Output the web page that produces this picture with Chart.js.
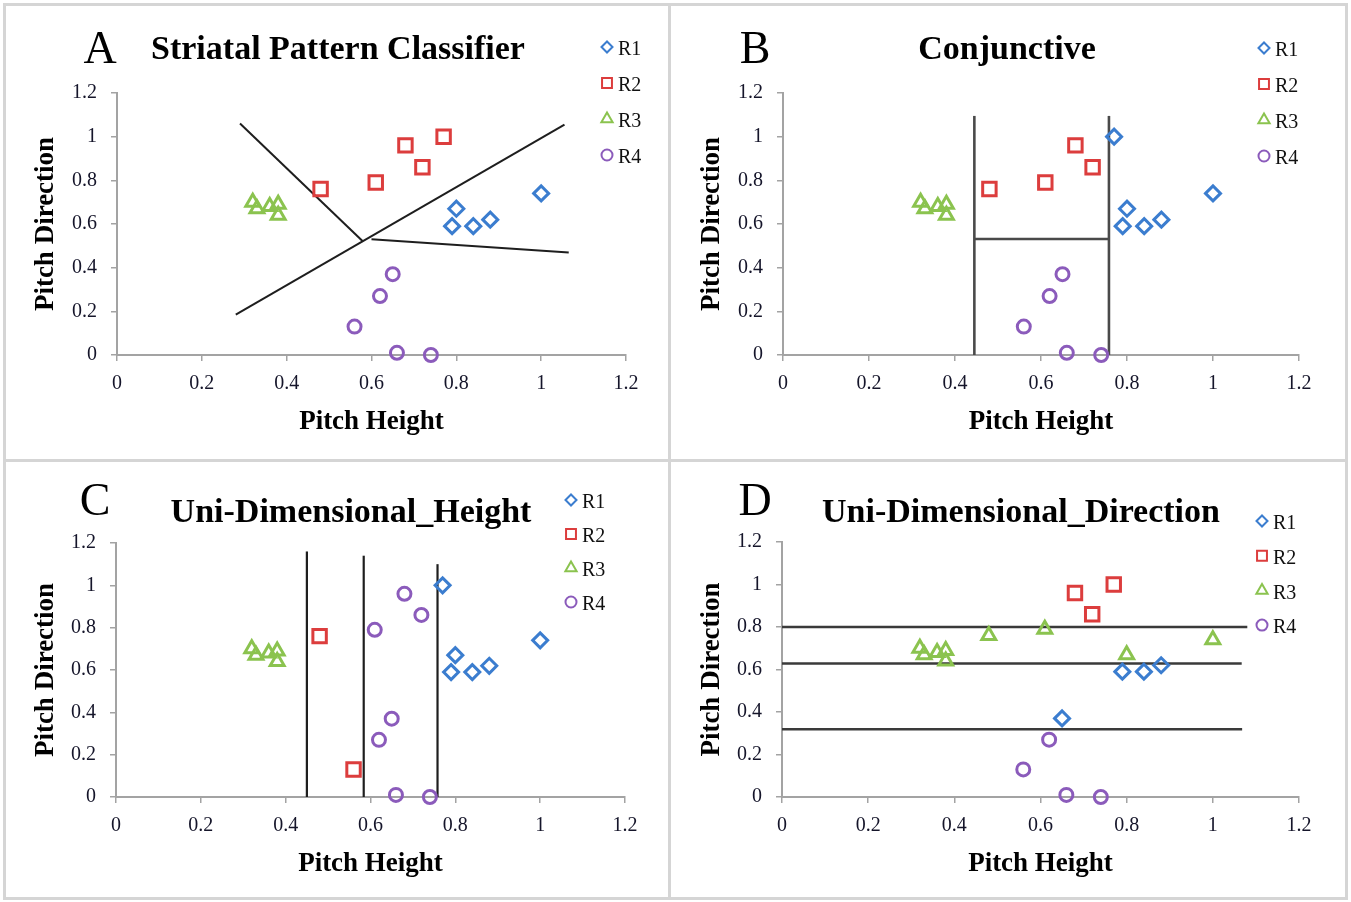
<!DOCTYPE html>
<html>
<head>
<meta charset="utf-8">
<title>Category boundaries</title>
<script src="https://cdn.jsdelivr.net/npm/chart.js@4/dist/chart.umd.min.js"></script>
<style>
  html, body { margin: 0; padding: 0; background: #fff; }
  #fig { position: relative; width: 1351px; height: 902px; overflow: hidden; background: #fff; }
  .panel { position: absolute; }
  .panel canvas { position: absolute; left: 0; top: 0; }
  .rule { position: absolute; background: #d5d5d5; }
</style>
</head>
<body>
<div id="fig">
  <div class="panel" style="left:0;top:0;width:669px;height:460px"><canvas id="cA" width="669" height="460"></canvas></div>
  <div class="panel" style="left:669px;top:0;width:682px;height:460px"><canvas id="cB" width="682" height="460"></canvas></div>
  <div class="panel" style="left:0;top:460px;width:669px;height:442px"><canvas id="cC" width="669" height="442"></canvas></div>
  <div class="panel" style="left:669px;top:460px;width:682px;height:442px"><canvas id="cD" width="682" height="442"></canvas></div>
  <!-- frame and dividers -->
  <div class="rule" style="left:3px;top:3px;width:1345px;height:3px"></div>
  <div class="rule" style="left:3px;top:897px;width:1345px;height:3px"></div>
  <div class="rule" style="left:3px;top:3px;width:3px;height:897px"></div>
  <div class="rule" style="left:1345px;top:3px;width:3px;height:897px"></div>
  <div class="rule" style="left:668px;top:3px;width:3px;height:897px"></div>
  <div class="rule" style="left:3px;top:459px;width:1345px;height:3px"></div>
</div>
<script>
// ---- data ----
const seriesNames  = ['R1', 'R2', 'R3', 'R4'];
const seriesColors = ['#3b7dcf', '#dc3d3d', '#8bc34f', '#8b5bbb'];
const seriesShapes = ['rectRot', 'rect', 'triangle', 'circle'];

// stimulus coordinates
const pitchHeight    = [0.32, 0.33, 0.36, 0.38, 0.38, 0.48, 0.61, 0.68, 0.72, 0.77,
                        0.79, 0.80, 0.84, 0.88, 1.00, 0.65, 0.62, 0.56, 0.66, 0.74];
const pitchDirection = [0.70, 0.67, 0.68, 0.69, 0.64, 0.76, 0.79, 0.96, 0.86, 1.00,
                        0.59, 0.67, 0.59, 0.62, 0.74, 0.37, 0.27, 0.13, 0.01, 0.00];

// response region (1..4 = R1..R4) assigned to each stimulus by each model
const groupA = [3, 3, 3, 3, 3, 2, 2, 2, 2, 2, 1, 1, 1, 1, 1, 4, 4, 4, 4, 4];
const groupB = [3, 3, 3, 3, 3, 2, 2, 2, 2, 1, 1, 1, 1, 1, 1, 4, 4, 4, 4, 4];
const groupC = [3, 3, 3, 3, 3, 2, 4, 4, 4, 1, 1, 1, 1, 1, 1, 4, 4, 2, 4, 4];
const groupD = [3, 3, 3, 3, 3, 3, 3, 2, 2, 2, 1, 3, 1, 1, 3, 1, 4, 4, 4, 4];

// decision boundaries as [x1, y1, x2, y2]
const boundsA = [[0.28, 0.185, 1.055, 1.055], [0.29, 1.06, 0.58, 0.52], [0.60, 0.53, 1.065, 0.47]];
const boundsB = [[0.445, 0, 0.445, 1.095], [0.758, 0, 0.758, 1.095], [0.445, 0.531, 0.76, 0.531]];
const boundsC = [[0.45, 0, 0.45, 1.16], [0.584, 0, 0.584, 1.14], [0.758, 0, 0.758, 1.10]];
const boundsD = [[0, 0.80, 1.08, 0.80], [0, 0.628, 1.067, 0.628], [0, 0.319, 1.068, 0.319]];

const tickValues = [0, 0.2, 0.4, 0.6, 0.8, 1, 1.2];
const tickLabels = ['0', '0.2', '0.4', '0.6', '0.8', '1', '1.2'];

// ---- drawing ----
const SERIF = '"Liberation Serif", "Times New Roman", serif';
const legendRadius = { rectRot: 5.5, rect: 7, triangle: 6.5, circle: 5.5 };
const markRadius   = { rectRot: 7.5, rect: 9.5, triangle: 8, circle: 6.5 };

const panelDecor = {
  id: 'panelDecor',
  afterDraw(chart, args, o) {
    const ctx = chart.ctx;
    ctx.save();
    ctx.fillStyle = '#000';
    ctx.textBaseline = 'alphabetic';
    ctx.textAlign = 'center';
    ctx.font = '46px ' + SERIF;
    ctx.fillText(o.letter, o.letterX, o.letterY);
    ctx.font = 'bold 34px ' + SERIF;
    ctx.fillText(o.title, o.titleX, o.titleY);

    ctx.font = '20px ' + SERIF;
    ctx.textAlign = 'left';
    ctx.textBaseline = 'middle';
    chart.data.datasets.filter(d => d.isSeries).forEach((d, i) => {
      const y = o.legendY + i * o.legendDy;
      ctx.strokeStyle = d.borderColor;
      ctx.fillStyle = 'rgba(0,0,0,0)';
      ctx.lineWidth = 2;
      Chart.helpers.drawPoint(ctx, {
        pointStyle: d.pointStyle, radius: legendRadius[d.pointStyle],
        borderWidth: 2, rotation: 0
      }, o.legendX, y - 2);
      ctx.fillStyle = '#111';
      ctx.fillText(d.label, o.legendX + 11, y + 1);
    });
    ctx.restore();
  }
};

function buildPanel(canvasId, group, bounds, lineStyle, layout, decor) {
  const datasets = [];
  seriesNames.forEach((name, s) => {
    const pts = [];
    group.forEach((g, i) => {
      if (g === s + 1) pts.push({ x: pitchHeight[i], y: pitchDirection[i] });
    });
    datasets.push({
      isSeries: true,
      label: name,
      data: pts,
      pointStyle: seriesShapes[s],
      pointRadius: markRadius[seriesShapes[s]],
      pointBorderWidth: 3,
      borderColor: seriesColors[s],
      backgroundColor: 'rgba(0,0,0,0)',
      showLine: false,
      clip: false
    });
  });
  bounds.forEach(b => {
    datasets.push({
      type: 'line',
      label: 'boundary',
      data: [{ x: b[0], y: b[1] }, { x: b[2], y: b[3] }],
      borderColor: lineStyle.color,
      borderWidth: lineStyle.width,
      pointRadius: 0,
      showLine: true,
      fill: false,
      clip: false
    });
  });

  const canvas = document.getElementById(canvasId);
  const W = canvas.width, H = canvas.height;
  const axisColor = '#a3a3a3';
  const tickFont = { family: SERIF, size: 20 };
  const titleFont = { family: SERIF, size: 27, weight: 'bold' };

  return new Chart(canvas, {
    type: 'scatter',
    data: { datasets },
    plugins: [panelDecor],
    options: {
      responsive: false,
      animation: false,
      events: [],
      layout: { padding: { left: 0, top: layout.top, right: W - layout.right, bottom: 0 } },
      plugins: {
        legend: { display: false },
        tooltip: { enabled: false },
        title: { display: false },
        panelDecor: decor
      },
      scales: {
        x: {
          type: 'linear', min: 0, max: 1.2,
          afterBuildTicks: s => { s.ticks = tickValues.map(v => ({ value: v })); },
          afterFit: s => { s.height = H - layout.bottom; },
          grid: { drawOnChartArea: false, drawTicks: true, tickLength: 6, color: axisColor, lineWidth: 1.5 },
          border: { display: true, color: axisColor, width: 2 },
          ticks: {
            padding: 11, color: '#15152a', font: tickFont, maxRotation: 0, autoSkip: false,
            callback: (v, i) => tickLabels[i]
          },
          title: { display: true, text: 'Pitch Height', color: '#000', font: titleFont,
                   padding: { top: 0, bottom: layout.xTitlePad } }
        },
        y: {
          type: 'linear', min: 0, max: 1.2,
          afterBuildTicks: s => { s.ticks = tickValues.map(v => ({ value: v })); },
          afterFit: s => { s.width = layout.left; },
          grid: { drawOnChartArea: false, drawTicks: true, tickLength: 6, color: axisColor, lineWidth: 1.5 },
          border: { display: true, color: axisColor, width: 2 },
          ticks: {
            padding: 14, color: '#15152a', font: tickFont, autoSkip: false,
            callback: (v, i) => tickLabels[i]
          },
          title: { display: true, text: 'Pitch Direction', color: '#000', font: titleFont,
                   padding: { top: layout.yTitlePad, bottom: 0 } }
        }
      }
    }
  });
}

buildPanel('cA', groupA, boundsA, { color: '#1e1e1e', width: 2 },
  { left: 117, right: 626, top: 93, bottom: 355, xTitlePad: 22, yTitlePad: 30 },
  { letter: 'A', letterX: 100, letterY: 63, title: 'Striatal Pattern Classifier', titleX: 338, titleY: 59,
    legendX: 607, legendY: 49, legendDy: 36 });

buildPanel('cB', groupB, boundsB, { color: '#4a4a4a', width: 2.6 },
  { left: 114, right: 630, top: 93, bottom: 355, xTitlePad: 22, yTitlePad: 27 },
  { letter: 'B', letterX: 86, letterY: 63, title: 'Conjunctive', titleX: 338, titleY: 59,
    legendX: 595, legendY: 50, legendDy: 36 });

buildPanel('cC', groupC, boundsC, { color: '#1e1e1e', width: 2.2 },
  { left: 116, right: 625, top: 83, bottom: 337, xTitlePad: 22, yTitlePad: 30 },
  { letter: 'C', letterX: 95, letterY: 55, title: 'Uni-Dimensional_Height', titleX: 351, titleY: 62,
    legendX: 571, legendY: 42, legendDy: 34 });

buildPanel('cD', groupD, boundsD, { color: '#3a3a3a', width: 2.4 },
  { left: 113, right: 630, top: 82, bottom: 337, xTitlePad: 22, yTitlePad: 27 },
  { letter: 'D', letterX: 86, letterY: 55, title: 'Uni-Dimensional_Direction', titleX: 352, titleY: 62,
    legendX: 593, legendY: 63, legendDy: 34.7 });
</script>
</body>
</html>
